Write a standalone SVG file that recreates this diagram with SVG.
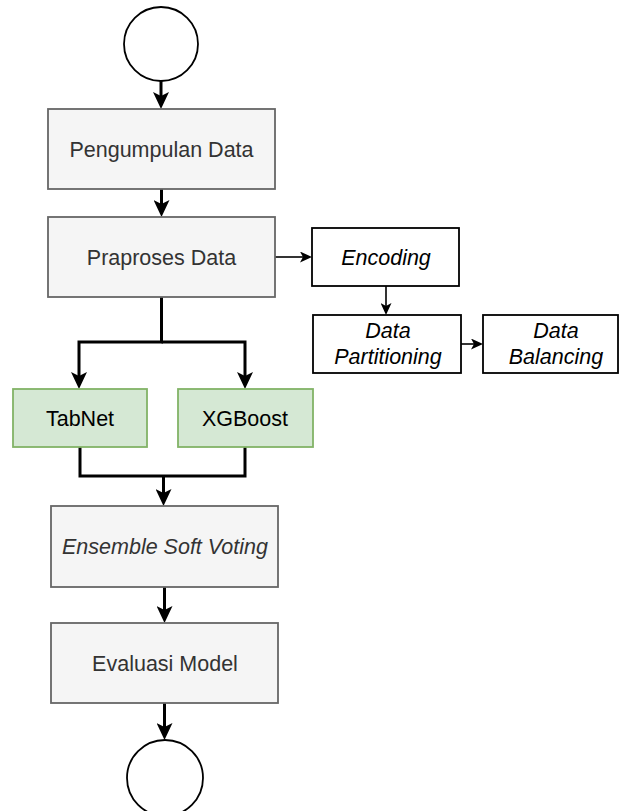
<svg xmlns="http://www.w3.org/2000/svg" width="620" height="811" viewBox="0 0 620 811">
  <style>
    .gray { fill: #f5f5f5; stroke: #666666; stroke-width: 1.8; }
    .green { fill: #d5e8d4; stroke: #82b366; stroke-width: 1.8; }
    .white { fill: #ffffff; stroke: #000000; stroke-width: 1.8; }
    .circ { fill: #ffffff; stroke: #000000; stroke-width: 1.8; }
    .t { font-family: "Liberation Sans", Arial, Helvetica, sans-serif; font-size: 21.5px; text-anchor: middle; }
    .tg { fill: #333333; }
    .tb { fill: #000000; }
    .it { font-style: italic; }
    .thick { fill: none; stroke: #000000; stroke-width: 3; }
    .thin { fill: none; stroke: #000000; stroke-width: 1.6; }
  </style>
  <defs>
    <marker id="big" markerUnits="userSpaceOnUse" markerWidth="17" markerHeight="16" viewBox="0 0 17 16" refX="7" refY="8" orient="auto">
      <path d="M0,0 L17,8 L0,16 L4,8 Z" fill="#000000"/>
    </marker>
    <marker id="small" markerUnits="userSpaceOnUse" markerWidth="12" markerHeight="11" viewBox="0 0 12 11" refX="6" refY="5.5" orient="auto">
      <path d="M0,0 L12,5.5 L0,11 L3,5.5 Z" fill="#000000"/>
    </marker>
  </defs>

  <g id="connectors">
    <path class="thick" d="M161,81 L161,99" marker-end="url(#big)"/>
    <path class="thick" d="M161.5,189 L161.5,207" marker-end="url(#big)"/>
    <path class="thin" d="M275,257 L306,257" marker-end="url(#small)"/>
    <path class="thin" d="M386,286 L386,309" marker-end="url(#small)"/>
    <path class="thin" d="M461,344 L477,344" marker-end="url(#small)"/>
    <path class="thick" d="M161.5,297 L161.5,342 L79,342 L79,379" marker-end="url(#big)"/>
    <path class="thick" d="M161.5,342 L245,342 L245,379" marker-end="url(#big)"/>
    <path class="thick" d="M80,447 L80,476 L245,476 L245,447"/>
    <path class="thick" d="M163.5,476 L163.5,496" marker-end="url(#big)"/>
    <path class="thick" d="M164.5,587 L164.5,613" marker-end="url(#big)"/>
    <path class="thick" d="M164.5,703 L164.5,730" marker-end="url(#big)"/>
  </g>

  <g id="start">
    <circle class="circ" cx="161" cy="44" r="37"/>
  </g>

  <g id="pengumpulan">
    <rect class="gray" x="48" y="109" width="227" height="80"/>
    <text class="t tg" x="161.5" y="157">Pengumpulan Data</text>
  </g>

  <g id="praproses">
    <rect class="gray" x="48" y="217" width="227" height="80"/>
    <text class="t tg" x="161.5" y="265">Praproses Data</text>
  </g>

  <g id="encoding">
    <rect class="white" x="312" y="228" width="147" height="58"/>
    <text class="t tb it" x="386" y="265">Encoding</text>
  </g>

  <g id="partitioning">
    <rect class="white" x="313" y="315" width="148" height="58"/>
    <text class="t tb it" x="388" y="338">Data</text>
    <text class="t tb it" x="388" y="364">Partitioning</text>
  </g>

  <g id="balancing">
    <rect class="white" x="483" y="315" width="135" height="58"/>
    <text class="t tb it" x="556" y="338">Data</text>
    <text class="t tb it" x="556" y="364">Balancing</text>
  </g>

  <g id="tabnet">
    <rect class="green" x="13" y="389" width="134" height="58"/>
    <text class="t tb" x="80" y="426">TabNet</text>
  </g>

  <g id="xgboost">
    <rect class="green" x="178" y="389" width="135" height="58"/>
    <text class="t tb" x="245" y="426">XGBoost</text>
  </g>

  <g id="ensemble">
    <rect class="gray" x="51" y="506" width="227" height="81"/>
    <text class="t tg it" x="165" y="554">Ensemble Soft Voting</text>
  </g>

  <g id="evaluasi">
    <rect class="gray" x="51" y="623" width="227" height="80"/>
    <text class="t tg" x="165" y="671">Evaluasi Model</text>
  </g>

  <g id="end">
    <circle class="circ" cx="165" cy="778" r="38"/>
  </g>
</svg>
